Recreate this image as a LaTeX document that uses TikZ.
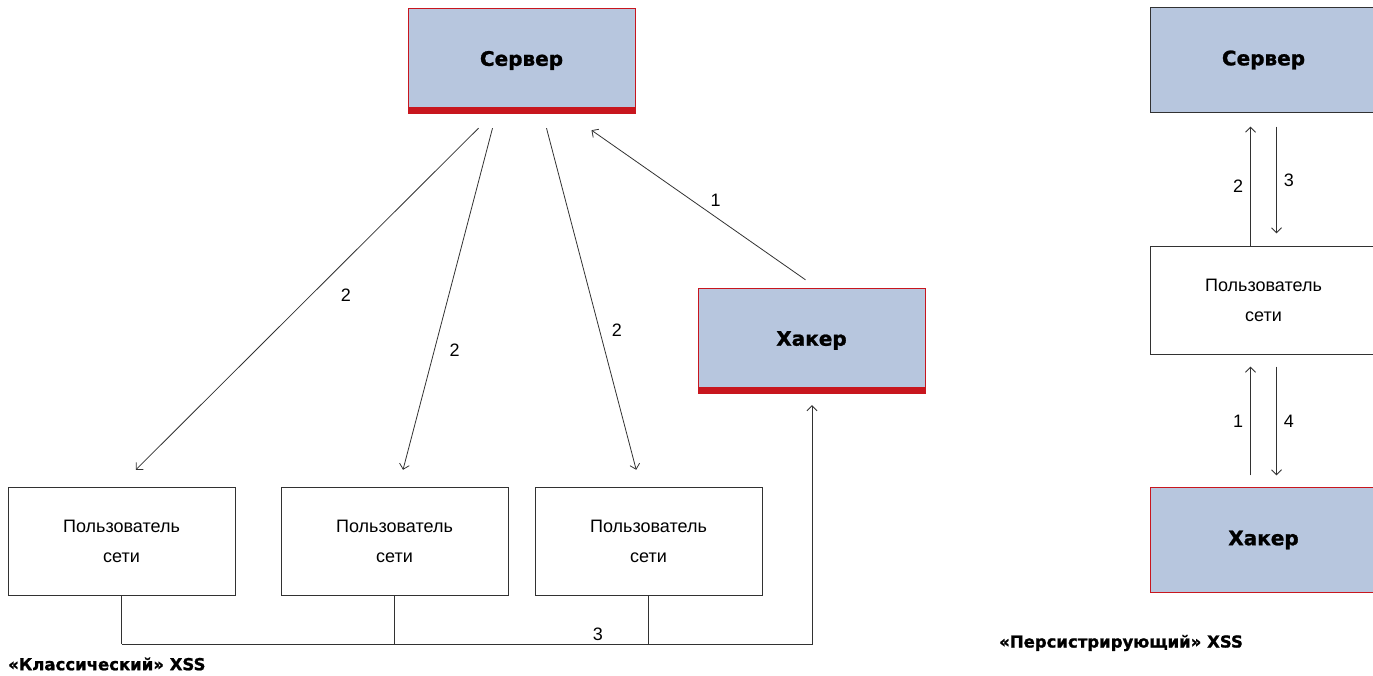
\documentclass[tikz,border=0pt]{standalone}
\usepackage{fontspec}
\setmainfont{Liberation Sans}
\newfontfamily\heavyfont[FakeBold=1.2]{DejaVu Sans Bold}
\usetikzlibrary{arrows.meta}
\definecolor{boxblue}{RGB}{183,198,222}
\definecolor{barred}{RGB}{200,22,30}
\definecolor{linegray}{RGB}{50,50,50}

\tikzset{
  boxA/.style={draw=barred, fill=boxblue, minimum width=227pt, minimum height=105pt,
    inner sep=0pt, font=\heavyfont\fontsize{20}{22}\selectfont},
  userbox/.style={draw=linegray, fill=white, minimum width=227pt, minimum height=108pt,
    inner sep=0pt, align=center, font=\fontsize{18}{30}\selectfont},
  flow/.style={draw=linegray, line width=0.8pt, -{Straight Barb[length=5pt,width=10pt]}},
  wire/.style={draw=linegray, line width=0.8pt},
  num/.style={font=\fontsize{18}{20}\selectfont, inner sep=0pt},
  caption/.style={anchor=west, inner sep=0pt, font=\heavyfont\fontsize{16.5}{18}\selectfont}
}

\begin{document}
\begin{tikzpicture}[x=1pt, y=-1pt]
  \useasboundingbox (0,0) rectangle (1373,676);
  \clip (0,0) rectangle (1373,676);

  % classic XSS
  \node[boxA] (srvA) at (521.5,60.5) {Сервер};
  \fill[barred] (srvA.south west) rectangle ([yshift=6pt]srvA.south east);
  \node[boxA] (hakA) at (811.5,340.5) {Хакер};
  \fill[barred] (hakA.south west) rectangle ([yshift=6pt]hakA.south east);

  \node[userbox] (usr1) at (121.5,541) {Пользователь\\сети};
  \node[userbox] (usr2) at (394.5,541) {Пользователь\\сети};
  \node[userbox] (usr3) at (648.5,541) {Пользователь\\сети};

  \draw[flow] ([xshift=-43pt,yshift=-15pt]srvA.south) -- node[num, pos=0.49, right=30pt] {2} ([xshift=128pt,yshift=17pt]usr1.north west);
  \draw[flow] ([xshift=-29pt,yshift=-15pt]srvA.south) -- node[num, pos=0.65, right=15pt] {2} ([xshift=8.5pt,yshift=17pt]usr2.north);
  \draw[flow] ([xshift=25pt,yshift=-15pt]srvA.south) -- node[num, pos=0.59, right=12pt] {2} ([xshift=-126pt,yshift=17pt]usr3.north east);
  \draw[flow] ([xshift=-6pt,yshift=8pt]hakA.north) -- node[num, pos=0.42, above=10pt] {1} ([xshift=70pt,yshift=-17pt]srvA.south);

  \coordinate (bus) at (0,644);
  \draw[wire] (usr1.south) -- (usr1.south |- bus);
  \draw[wire] (usr2.south) -- (usr2.south |- bus);
  \draw[wire] (usr3.south) -- (usr3.south |- bus);
  \draw[flow] (usr1.south |- bus) -- node[num, pos=0.69, above=3pt] {3} ([xshift=0.5pt]hakA.south |- bus) -- ([xshift=0.5pt,yshift=-12pt]hakA.south);

  \node[caption] (capA) at (8,664) {«Классический» XSS};

  % persistent XSS
  \node[boxA, draw=linegray] (srvB) at (1263.5,60) {Сервер};
  \node[userbox] (usrB) at (1263.5,300.5) {Пользователь\\сети};
  \node[boxA] (hakB) at (1263.5,540) {Хакер};

  \draw[flow] ([xshift=-13pt]usrB.north) -- node[num, left=7pt] {2} ([xshift=-13pt,yshift=-14pt]srvB.south);
  \draw[flow] ([xshift=13pt,yshift=-14pt]srvB.south) -- node[num, right=7pt] {3} ([xshift=13pt,yshift=13pt]usrB.north);
  \draw[flow] ([xshift=-13pt,yshift=12pt]hakB.north) -- node[num, left=7pt] {1} ([xshift=-13pt,yshift=-12pt]usrB.south);
  \draw[flow] ([xshift=13pt,yshift=-12pt]usrB.south) -- node[num, right=7pt] {4} ([xshift=13pt,yshift=12pt]hakB.north);

  \node[caption] (capB) at (999,643) {«Персистрирующий» XSS};
\end{tikzpicture}
\end{document}
